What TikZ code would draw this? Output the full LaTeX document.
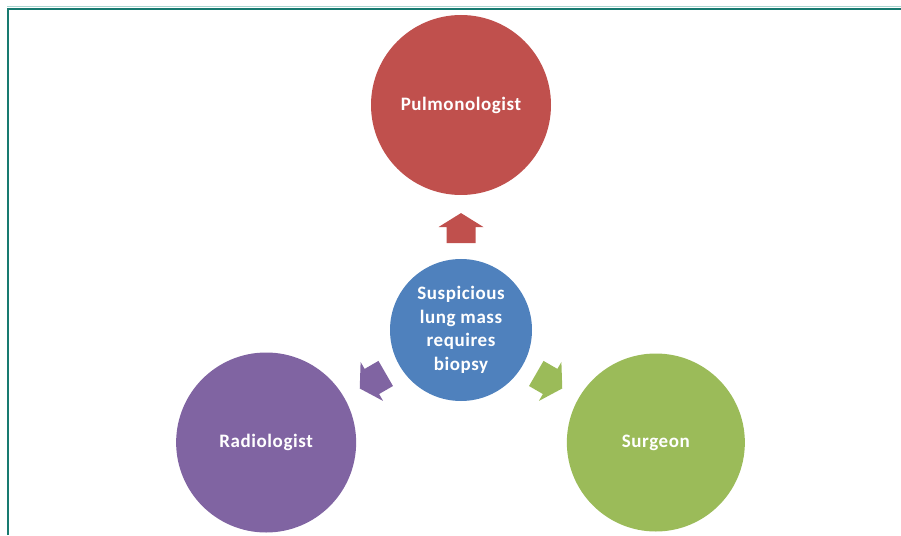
\documentclass[tikz,border=0pt]{standalone}
\usepackage{fontspec}
\setmainfont{Carlito}
\usetikzlibrary{calc}
\definecolor{framecol}{RGB}{24,122,112}
\definecolor{framelight}{RGB}{170,214,208}
\definecolor{massblue}{HTML}{4F81BD}
\definecolor{pulmored}{HTML}{C0504D}
\definecolor{radiopurple}{HTML}{8064A2}
\definecolor{surggreen}{HTML}{9BBB59}
\begin{document}
\begin{tikzpicture}[x=1pt,y=1pt,
    bubble/.style={circle, inner sep=0pt, text=white, align=center,
        font=\bfseries\fontsize{19}{23.5}\selectfont\addfontfeatures{LetterSpace=3}}]
    \useasboundingbox (-461,-205) rectangle (440,330);
    % frame
    \draw [framelight, line width=1] (-454,323.5) -- (440,323.5);
    \draw [framecol, line width=2] (-453,-205) -- (-453,321) -- (440,321);
    % circles
    \node [bubble, fill=massblue, minimum size=142] (mass) at (0,0) {Suspicious\\lung mass\\requires\\biopsy};
    \node [bubble, fill=pulmored, minimum size=180] (pulmo) at (90:225) {Pulmonologist};
    \node [bubble, fill=radiopurple, minimum size=180] (radio) at (210:225) {Radiologist};
    \node [bubble, fill=surggreen, minimum size=178] (surg) at (330:225) {Surgeon};
    % block arrows
    \fill [pulmored, shift={($(mass)!0.453!(pulmo)$)}, rotate=90]
        (-15,-14.5) -- (1,-14.5) -- (1,-22.5) -- (15,0) -- (1,22.5) -- (1,14.5) -- (-15,14.5) -- cycle;
    \fill [radiopurple, shift={($(mass)!0.453!(radio)$)}, rotate=210]
        (-15,-14.5) -- (1,-14.5) -- (1,-22.5) -- (15,0) -- (1,22.5) -- (1,14.5) -- (-15,14.5) -- cycle;
    \fill [surggreen, shift={($(mass)!0.453!(surg)$)}, rotate=330]
        (-15,-14.5) -- (1,-14.5) -- (1,-22.5) -- (15,0) -- (1,22.5) -- (1,14.5) -- (-15,14.5) -- cycle;
\end{tikzpicture}
\end{document}
